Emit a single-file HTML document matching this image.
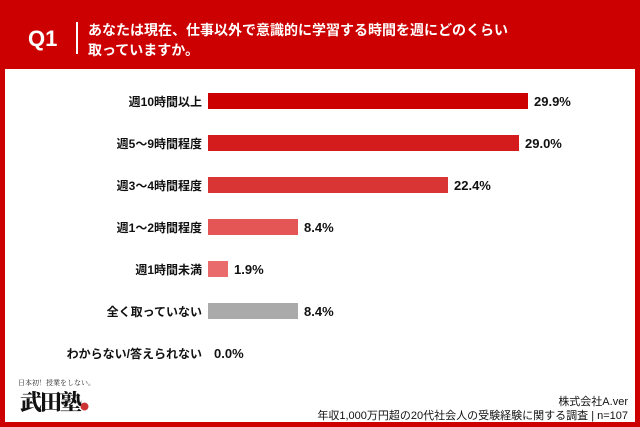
<!DOCTYPE html>
<html><head><meta charset="utf-8"><style>
body{margin:0;width:640px;height:427px;background:#cc0000;position:relative;overflow:hidden;font-family:"Liberation Sans","Noto Sans CJK JP",sans-serif;}
.q{position:absolute;left:28px;top:26px;color:#fff;font-size:22px;font-weight:bold;}
.sep{position:absolute;left:76px;top:22px;width:2px;height:32px;background:#fff;}
.t{position:absolute;left:88px;top:20px;color:#fff;font-size:14px;font-weight:bold;line-height:20px;}
.panel{position:absolute;left:5px;top:69px;width:630px;height:353px;background:#fff;}
.lab{position:absolute;right:438px;font-size:12px;font-weight:bold;color:#111;white-space:nowrap;}
.bar{position:absolute;left:208px;height:16px;}
.v{position:absolute;font-size:13px;font-weight:bold;color:#111;}
.f{position:absolute;right:12px;font-size:11px;color:#111;text-align:right;}
</style></head><body>
<div class="q">Q1</div><div class="sep"></div>
<div class="t">あなたは現在、仕事以外で意識的に学習する時間を週にどのくらい<br>取っていますか。</div>
<div class="panel"></div>
<div class="lab" style="top:93px">週10時間以上</div><div class="bar" style="top:93px;width:320px;background:#cc0000"></div><div class="v" style="left:534px;top:94px">29.9%</div>
<div class="lab" style="top:135px">週5～9時間程度</div><div class="bar" style="top:135px;width:311px;background:#d41c1c"></div><div class="v" style="left:525px;top:136px">29.0%</div>
<div class="lab" style="top:177px">週3～4時間程度</div><div class="bar" style="top:177px;width:240px;background:#da3535"></div><div class="v" style="left:454px;top:178px">22.4%</div>
<div class="lab" style="top:219px">週1～2時間程度</div><div class="bar" style="top:219px;width:90px;background:#e45555"></div><div class="v" style="left:304px;top:220px">8.4%</div>
<div class="lab" style="top:261px">週1時間未満</div><div class="bar" style="top:261px;width:20px;background:#ea6b6b"></div><div class="v" style="left:234px;top:262px">1.9%</div>
<div class="lab" style="top:303px">全く取っていない</div><div class="bar" style="top:303px;width:90px;background:#aaaaaa"></div><div class="v" style="left:304px;top:304px">8.4%</div>
<div class="lab" style="top:345px">わからない/答えられない</div><div class="v" style="left:214px;top:346px">0.0%</div>
<div style="position:absolute;left:18px;top:378px;font-size:7px;font-family:'Noto Serif CJK SC',serif;color:#222">日本初！授業をしない。</div>
<div style="position:absolute;left:20px;top:386px;font-size:22px;font-weight:900;color:#111;font-family:'Noto Serif CJK SC',serif;letter-spacing:-2px">武田塾<span style="font-size:9px;color:#c33">●</span></div>
<div class="f" style="top:393px">株式会社A.ver</div>
<div class="f" style="top:407px">年収1,000万円超の20代社会人の受験経験に関する調査 | n=107</div>
</body></html>
